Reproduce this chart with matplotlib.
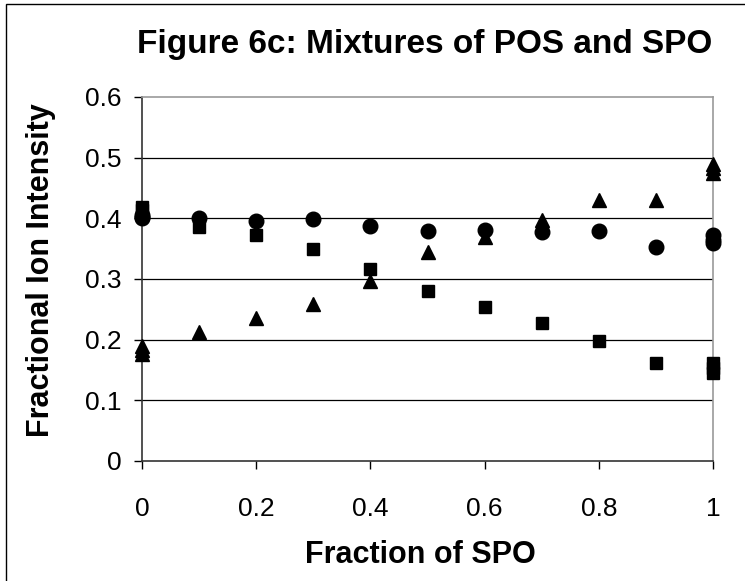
import matplotlib
matplotlib.use('Agg')
import matplotlib.pyplot as plt
from matplotlib.patches import Rectangle

plt.rcParams['font.family'] = ['Liberation Sans', 'DejaVu Sans']

# circles
circ_x = [0, 0, 0, 0.1, 0.2, 0.3, 0.4, 0.5, 0.6, 0.7, 0.8, 0.9, 1, 1, 1]
circ_y = [0.405, 0.402, 0.400, 0.400, 0.396, 0.399, 0.388, 0.379, 0.380, 0.378, 0.379, 0.353, 0.372, 0.365, 0.359]

# squares
sq_x = [0, 0, 0.1, 0.2, 0.3, 0.4, 0.5, 0.6, 0.7, 0.8, 0.9, 1, 1, 1]
sq_y = [0.418, 0.414, 0.385, 0.372, 0.350, 0.317, 0.281, 0.254, 0.228, 0.198, 0.162, 0.162, 0.153, 0.145]

# triangles
tri_x = [0, 0, 0, 0.1, 0.2, 0.3, 0.4, 0.5, 0.6, 0.7, 0.8, 0.9, 1, 1, 1]
tri_y = [0.190, 0.183, 0.176, 0.212, 0.235, 0.259, 0.297, 0.345, 0.370, 0.397, 0.430, 0.430, 0.490, 0.483, 0.475]

xticks = [0, 0.2, 0.4, 0.6, 0.8, 1]
xticklabels = ['0', '0.2', '0.4', '0.6', '0.8', '1']
yticks = [0, 0.1, 0.2, 0.3, 0.4, 0.5, 0.6]
yticklabels = ['0', '0.1', '0.2', '0.3', '0.4', '0.5', '0.6']

fig = plt.figure(figsize=(7.45, 5.81), dpi=100)
ax = fig.add_axes([142/745, 120/581, 571/745, 364/581])

# outer chart frame (cropped on right/bottom)
fig.patches.append(Rectangle((6/745, -0.1), 1.2, 1 - 4/581 + 0.1, transform=fig.transFigure,
                             fill=False, edgecolor='black', linewidth=1.0))

for y in yticks[1:-1]:
    ax.axhline(y, color='black', linewidth=0.9, zorder=1)

ax.plot(tri_x, tri_y, '^', color='black', markersize=9.5, linestyle='none', zorder=3, clip_on=False)
ax.plot(sq_x, sq_y, 's', color='black', markersize=8, linestyle='none', zorder=3, clip_on=False)
ax.plot(circ_x, circ_y, 'o', color='black', markersize=10.5, linestyle='none', zorder=3, clip_on=False)

ax.set_xlim(0, 1)
ax.set_ylim(0, 0.6)
ax.set_xticks(xticks)
ax.set_xticklabels(xticklabels)
ax.set_yticks(yticks)
ax.set_yticklabels(yticklabels)
ax.tick_params(axis='x', direction='out', length=6, width=1, pad=20, labelsize=19, colors='black')
ax.tick_params(axis='y', direction='out', length=6, width=1, pad=9, labelsize=19, colors='black')

ax.spines['left'].set_color('#333333')
ax.spines['bottom'].set_color('#333333')
ax.spines['top'].set_color('#999999')
ax.spines['right'].set_color('#999999')
for s in ax.spines.values():
    s.set_linewidth(1.2)

fig.text(425/745, 1 - 45/581, 'Figure 6c: Mixtures of POS and SPO', ha='center', va='center',
         fontsize=24, fontweight='bold')
fig.text(420/745, 1 - 555/581, 'Fraction of SPO', ha='center', va='center',
         fontsize=22, fontweight='bold')
fig.text(41/745, 1 - 270/581, 'Fractional Ion Intensity', ha='center', va='center',
         rotation=90, fontsize=22, fontweight='bold')

fig.savefig('out.png', dpi=100)
